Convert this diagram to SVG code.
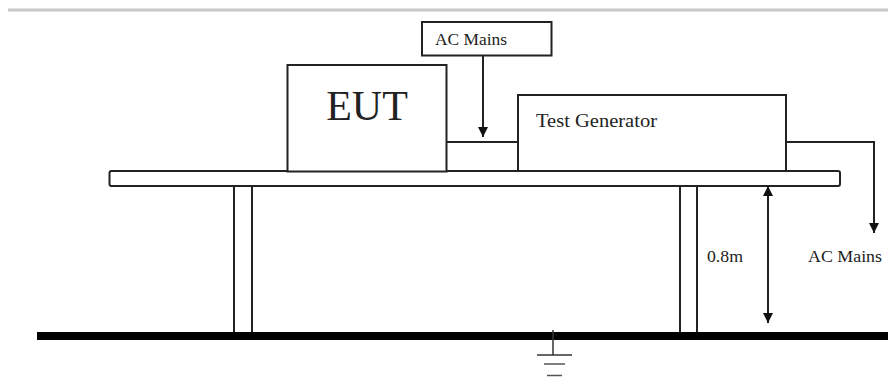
<svg xmlns="http://www.w3.org/2000/svg" width="888" height="380" viewBox="0 0 888 380">
<defs>
<marker id="ah" viewBox="0 0 10 10" refX="10" refY="5" markerWidth="10" markerHeight="10" markerUnits="userSpaceOnUse" orient="auto-start-reverse">
<path d="M0,0 L10,5 L0,10 z" fill="#111"/>
</marker>
<style>
.box{fill:#fff;stroke:#222;stroke-width:2}
.ln{fill:none;stroke:#222;stroke-width:2}
.lbl{font-family:"Liberation Serif","Times New Roman",serif;fill:#222}
</style>
</defs>
<rect width="888" height="380" fill="#fff"/>
<line x1="8" y1="10" x2="888" y2="10" stroke="#c8c8c8" stroke-width="3"/>
<g id="table">
<rect class="box" x="109.5" y="171" width="730.5" height="15" rx="2"/>
<line class="ln" x1="234" y1="186" x2="234" y2="333"/>
<line class="ln" x1="252" y1="186" x2="252" y2="333"/>
<line class="ln" x1="680" y1="186" x2="680" y2="333"/>
<line class="ln" x1="697" y1="186" x2="697" y2="333"/>
</g>
<g id="ground">
<line x1="37" y1="336" x2="888" y2="336" stroke="#000" stroke-width="8"/>
<line x1="553" y1="330" x2="553" y2="355" stroke="#333" stroke-width="1.5"/>
<line x1="537" y1="355" x2="572" y2="355" stroke="#333" stroke-width="1.5"/>
<line x1="544" y1="364" x2="565" y2="364" stroke="#555" stroke-width="1.5"/>
<line x1="547" y1="375.5" x2="562" y2="375.5" stroke="#555" stroke-width="1.5"/>
</g>
<g id="eut">
<rect class="box" x="287.5" y="65" width="159" height="106.5"/>
<text class="lbl" x="367" y="120" font-size="42" text-anchor="middle">EUT</text>
</g>
<g id="test-generator">
<rect class="box" x="518" y="95" width="268" height="76"/>
<text class="lbl" x="536" y="127" font-size="18" textLength="121" lengthAdjust="spacingAndGlyphs">Test Generator</text>
</g>
<g id="ac-mains-top">
<rect class="box" x="422" y="22" width="129.5" height="33.5"/>
<text class="lbl" x="435" y="45" font-size="17" textLength="72" lengthAdjust="spacingAndGlyphs">AC Mains</text>
</g>
<g id="ac-mains-right">
<text class="lbl" x="808" y="262" font-size="17" textLength="74" lengthAdjust="spacingAndGlyphs">AC Mains</text>
</g>
<g id="height-label">
<text class="lbl" x="707" y="262" font-size="16" textLength="36" lengthAdjust="spacingAndGlyphs">0.8m</text>
</g>
<g id="connectors">
<line class="ln" x1="483" y1="56" x2="483" y2="137" marker-end="url(#ah)"/>
<line class="ln" x1="447" y1="142" x2="518" y2="142"/>
<polyline class="ln" points="786,142 874,142 874,233" marker-end="url(#ah)"/>
<line class="ln" x1="768" y1="186" x2="768" y2="323" marker-start="url(#ah)" marker-end="url(#ah)"/>
</g>
</svg>
